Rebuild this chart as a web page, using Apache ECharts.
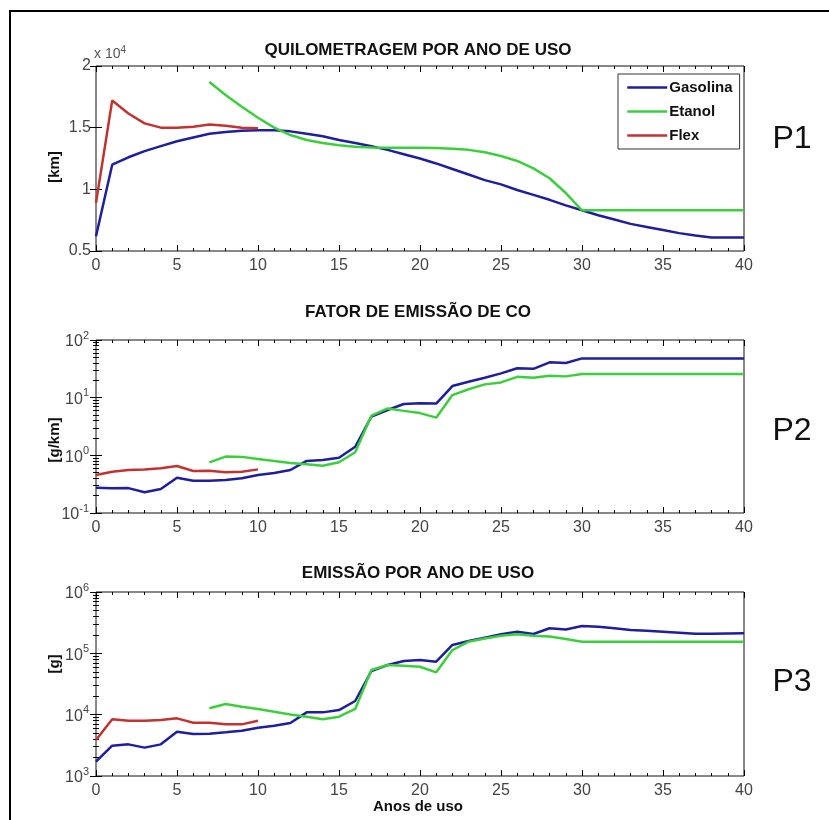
<!DOCTYPE html>
<html><head><meta charset="utf-8">
<script src="https://cdn.jsdelivr.net/npm/echarts@6/dist/echarts.min.js"></script>
<style>html,body{margin:0;padding:0;background:#fff}#c{width:829px;height:820px}</style>
</head><body><div id="c"></div>
<script>
// ---------- data ----------
const yearsAll = [0,1,2,3,4,5,6,7,8,9,10,11,12,13,14,15,16,17,18,19,20,21,22,23,24,25,26,27,28,29,30,31,32,33,34,35,36,37,38,39,40];
const yearsEta = [7,8,9,10,11,12,13,14,15,16,17,18,19,20,21,22,23,24,25,26,27,28,29,30,31,32,33,34,35,36,37,38,39,40];
const yearsFlex = [0,1,2,3,4,5,6,7,8,9,10];
const seriesNames = ['Gasolina','Etanol','Flex'];
const titles = ['QUILOMETRAGEM POR ANO DE USO','FATOR DE EMISSÃO DE CO','EMISSÃO POR ANO DE USO'];
const yNames = ['[km]','[g/km]','[g]'];
const panelLabels = ['P1','P2','P3'];
const xName = 'Anos de uso';
const xTicks = [0,5,10,15,20,25,30,35,40];

// P1: km per year of use
const gasKm = [6200,12000,12600,13100,13500,13900,14200,14500,14650,14750,14800,14800,14700,14500,14300,14000,13750,13500,13200,12850,12500,12100,11650,11200,10750,10400,9950,9550,9150,8700,8300,7900,7550,7200,6950,6700,6450,6250,6100,6100,6100];
const etaKm = [18700,17650,16700,15800,15000,14400,14000,13750,13570,13450,13400,13380,13370,13370,13350,13300,13200,13000,12700,12300,11700,10900,9700,8300,8300,8300,8300,8300,8300,8300,8300,8300,8300,8300];
const flexKm = [8900,17200,16150,15350,15000,15000,15080,15250,15150,15000,14950];

// P2: CO emission factor [g/km]
const gasCO = [0.275,0.268,0.27,0.229,0.26,0.41,0.363,0.363,0.373,0.40,0.456,0.494,0.557,0.80,0.83,0.91,1.41,4.68,6.1,7.76,8.0,7.9,15.9,18.9,22.2,26.4,32.3,31.6,41,39.8,48,48,48,48,48,48,48,48,48,48,48];
const etaCO = [0.757,0.95,0.94,0.863,0.797,0.736,0.70,0.662,0.757,1.13,4.87,6.5,5.9,5.4,4.5,11.1,14,17,18.4,23,22.2,24,23.4,25.7,25.7,25.7,25.7,25.7,25.7,25.7,25.7,25.7,25.7,25.7];
const flexCO = [0.456,0.52,0.557,0.57,0.596,0.653,0.535,0.54,0.507,0.52,0.571];

// P3: emission per year of use [g]
const gasG = [1710,3120,3280,2900,3280,5270,4840,4900,5150,5480,6140,6610,7310,10900,10900,11900,16700,51500,64600,75000,78000,73000,137000,159000,180000,204000,225000,207000,256000,245000,279000,272000,256000,240000,233000,225000,217000,209000,209000,211000,212000];
const etaG = [12700,14900,13500,12400,11200,10100,9270,8400,9270,12400,53500,64600,63000,60500,49000,113000,155000,175000,194000,204000,194000,188000,171000,155000,155000,155000,155000,155000,155000,155000,155000,155000,155000,155000];
const flexG = [3860,8400,7980,7980,8200,8710,7400,7400,6950,6950,7980];

// ---------- chart ----------
const colors = ['#1e1e9e','#3ccf3c','#c23330'];
const zip = (xs, ys) => xs.map((x, i) => [x, ys[i]]);
const tickColor = '#000';
const labelColor = '#444';
const FONT = 'Arial, "Liberation Sans", sans-serif';

const grids = [
  {left: 96, top: 66, width: 648, height: 185},
  {left: 96, top: 340, width: 648, height: 173},
  {left: 96, top: 592, width: 648, height: 184}
].map(g => Object.assign(g, {show: true, borderColor: '#111', borderWidth: 1, backgroundColor: 'transparent', outerBoundsMode: 'none'}));

const xAxis = [];
const yAxis = [];
for (let g = 0; g < 3; g++) {
  ['bottom','top'].forEach(pos => {
    xAxis.push({
      type: 'value', gridIndex: g, position: pos, min: xTicks[0], max: xTicks[xTicks.length-1], interval: 5,
      axisLine: {show: false}, splitLine: {show: false},
      axisTick: {show: true, inside: true, length: 6, lineStyle: {color: tickColor, width: 1}},
      minorTick: {show: true, splitNumber: 5, length: 3, lineStyle: {color: tickColor, width: 1}},
      axisLabel: {show: pos === 'bottom', fontSize: 16, color: labelColor, margin: 7, fontFamily: FONT}
    });
  });
  ['left','right'].forEach(pos => {
    const base = {
      gridIndex: g, position: pos,
      axisLine: {show: false}, splitLine: {show: false},
      axisTick: {show: true, inside: true, length: 6, lineStyle: {color: tickColor, width: 1}}
    };
    if (g === 0) {
      Object.assign(base, {
        type: 'value', min: 5000, max: 20000, interval: 5000,
        axisLabel: {show: pos === 'left', fontSize: 16, color: labelColor, margin: 5, fontFamily: FONT,
          formatter: v => String(v / 10000)}
      });
    } else {
      Object.assign(base, {
        type: 'log', logBase: 10,
        min: g === 1 ? 0.1 : 1000, max: g === 1 ? 100 : 1000000,
        minorTick: {show: true, splitNumber: 9, length: 3, lineStyle: {color: tickColor, width: 1}},
        axisLabel: {show: pos === 'left', margin: 7,
          formatter: v => '{b|10}{s|' + Math.round(Math.log10(v)) + '}',
          rich: {
            b: {fontSize: 16, color: labelColor, fontFamily: FONT, lineHeight: 20, verticalAlign: 'bottom'},
            s: {fontSize: 11, color: labelColor, fontFamily: FONT, lineHeight: 11, verticalAlign: 'top'}
          }}
      });
    }
    yAxis.push(base);
  });
}

const dataSets = [
  [zip(yearsAll, gasKm), zip(yearsEta, etaKm), zip(yearsFlex, flexKm)],
  [zip(yearsAll, gasCO), zip(yearsEta, etaCO), zip(yearsFlex, flexCO)],
  [zip(yearsAll, gasG), zip(yearsEta, etaG), zip(yearsFlex, flexG)]
];
const series = [];
dataSets.forEach((sets, g) => {
  sets.forEach((d, k) => {
    series.push({
      name: seriesNames[k], type: 'line', data: d,
      xAxisIndex: g * 2, yAxisIndex: g * 2,
      showSymbol: false, symbol: 'none', smooth: false,
      lineStyle: {color: colors[k], width: 2.5}, itemStyle: {color: colors[k]},
      animation: false, silent: true
    });
  });
});

const titleY = [50, 312, 573];
const yNameY = [167, 440, 664];
const pY = [139, 431, 682];
const graphic = [
  {type: 'rect', shape: {x: 10, y: 11, width: 900, height: 900}, style: {fill: 'none', stroke: '#000', lineWidth: 2}, silent: true},
  {type: 'text', x: 94, y: 53, style: {
    text: '{a|x 10}{s|4}', textVerticalAlign: 'middle',
    rich: {a: {fontSize: 14, fill: '#555', fontFamily: FONT, lineHeight: 16, verticalAlign: 'bottom'},
           s: {fontSize: 10, fill: '#555', fontFamily: FONT, lineHeight: 10, verticalAlign: 'top'}}
  }},
  {type: 'text', x: 418, y: 807, style: {text: xName, fontSize: 15, fontWeight: 'bold', fontFamily: FONT, fill: '#111', textAlign: 'center', textVerticalAlign: 'middle'}}
];
for (let g = 0; g < 3; g++) {
  graphic.push({type: 'text', x: 418, y: titleY[g], style: {text: titles[g], fontSize: 17, fontWeight: 'bold', fontFamily: FONT, fill: '#111', textAlign: 'center', textVerticalAlign: 'middle'}});
  graphic.push({type: 'text', x: 55, y: yNameY[g], rotation: Math.PI / 2, style: {text: yNames[g], fontSize: 15, fontWeight: 'bold', fontFamily: FONT, fill: '#111', textAlign: 'center', textVerticalAlign: 'middle'}});
  graphic.push({type: 'text', x: 792, y: pY[g], style: {text: panelLabels[g], fontSize: 32, fontFamily: FONT, fill: '#111', textAlign: 'center', textVerticalAlign: 'middle'}});
}

const chart = echarts.init(document.getElementById('c'), null, {renderer: 'canvas'});
chart.setOption({
  animation: false,
  backgroundColor: '#fff',
  grid: grids,
  xAxis: xAxis,
  yAxis: yAxis,
  legend: {
    data: seriesNames, left: 618, top: 74, orient: 'vertical', selectedMode: false,
    padding: [6, 7, 6, 8], itemGap: 9, itemWidth: 40, itemHeight: 14,
    itemStyle: {opacity: 0}, lineStyle: {width: 2.5},
    backgroundColor: '#fff', borderColor: '#333', borderWidth: 1, borderRadius: 0,
    textStyle: {fontSize: 15, fontWeight: 'bold', color: '#111', fontFamily: FONT, padding: [0, 0, 0, -3]}
  },
  series: series,
  graphic: graphic
});
</script>
</body></html>
